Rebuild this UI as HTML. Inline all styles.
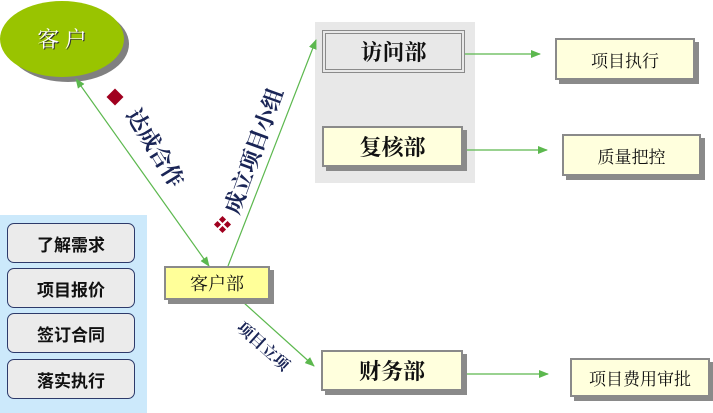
<!DOCTYPE html>
<html><head><meta charset="utf-8"><style>
body{margin:0;width:713px;height:413px;position:relative;overflow:hidden;background:#fff;font-family:"Liberation Sans","Noto Sans CJK SC",sans-serif}
.a{position:absolute;box-sizing:border-box}
.bx{position:absolute;box-sizing:border-box;background:#ffffdd;border:2px solid #8a8a8a;box-shadow:4px 4px 0 #8a8a8a;display:flex;align-items:center;justify-content:center;color:#111;font-family:"Liberation Serif","Noto Serif CJK SC",serif}
.btn{position:absolute;left:7px;width:128px;height:40px;box-sizing:border-box;border:1.5px solid #2d3a6a;border-radius:7px;background:#ebebeb;display:flex;align-items:center;justify-content:center;font-size:17px;font-weight:bold;color:#111}
.lbl{position:absolute;color:#1a2556;font-family:"Liberation Serif","Noto Serif CJK SC",serif;font-weight:bold;white-space:nowrap;transform-origin:center}
</style></head><body>
<div class="a" style="left:0;top:215px;width:147px;height:198px;background:#cce9fb"></div>
<div class="btn" style="top:223px">了解需求</div>
<div class="btn" style="top:268px">项目报价</div>
<div class="btn" style="top:313px">签订合同</div>
<div class="btn" style="top:359px">落实执行</div>

<div class="a" style="left:315px;top:22px;width:160px;height:161px;background:#e8e8e8"></div>

<svg class="a" style="left:0;top:0" width="713" height="413">
<defs>
<marker id="m" markerWidth="10" markerHeight="8" refX="9" refY="4" orient="auto" markerUnits="userSpaceOnUse"><path d="M0,0L10,4L0,8z" fill="#5cb84e"/></marker>
<marker id="ms" markerWidth="10" markerHeight="8" refX="1" refY="4" orient="auto" markerUnits="userSpaceOnUse"><path d="M10,0L0,4L10,8z" fill="#5cb84e"/></marker>
</defs>
<ellipse cx="68" cy="44" rx="61" ry="38" fill="#808080"/>
<ellipse cx="62" cy="39" rx="62" ry="38" fill="#99c400"/>
<text x="63" y="48" font-size="22" fill="#333" text-anchor="middle" font-family="Liberation Serif,Noto Serif CJK SC,serif">客 户</text>
<text x="62" y="47" font-size="22" fill="#fff" text-anchor="middle" font-family="Liberation Serif,Noto Serif CJK SC,serif">客 户</text>
<g stroke="#5cb84e" stroke-width="1.2" fill="none">
<line x1="76" y1="79" x2="209" y2="266" marker-start="url(#ms)" marker-end="url(#m)"/>
<line x1="228" y1="266" x2="316" y2="40" marker-end="url(#m)"/>
<line x1="243" y1="302" x2="314" y2="366" marker-end="url(#m)"/>
<line x1="465" y1="54" x2="540" y2="54" marker-end="url(#m)"/>
<line x1="465" y1="150" x2="547" y2="150" marker-end="url(#m)"/>
<line x1="463" y1="374" x2="548" y2="374" marker-end="url(#m)"/>
</g>
<rect x="109" y="91" width="12" height="12" fill="#a0001f" transform="rotate(45 115 97)"/>
<g fill="#a0001f">
<rect x="220" y="217" width="5" height="5" transform="rotate(45 222.5 219.5)"/>
<rect x="215" y="222" width="5" height="5" transform="rotate(45 217.5 224.5)"/>
<rect x="225" y="222" width="5" height="5" transform="rotate(45 227.5 224.5)"/>
<rect x="220" y="227" width="5" height="5" transform="rotate(45 222.5 229.5)"/>
</g>
</svg>

<div class="lbl" style="left:110px;top:132px;width:92px;text-align:center;font-size:22px;transform:rotate(58deg)">达成合作</div>
<div class="lbl" style="left:183px;top:135px;width:140px;text-align:center;font-size:22px;transform:rotate(-70deg)">成立项目小组</div>
<div class="lbl" style="left:228px;top:334px;width:72px;text-align:center;font-size:16px;transform:rotate(42deg)">项目立项</div>

<div class="bx" style="left:322px;top:30px;width:143px;height:43px;background:#e8e8e8;border:4px double #8a8a8a;box-shadow:none;font-size:22px;font-weight:bold">访问部</div>
<div class="bx" style="left:322px;top:126px;width:141px;height:41px;font-size:22px;font-weight:bold">复核部</div>
<div class="bx" style="left:555px;top:38px;width:140px;height:42px;font-size:17px">项目执行</div>
<div class="bx" style="left:562px;top:134px;width:139px;height:42px;font-size:17px">质量把控</div>
<div class="bx" style="left:164px;top:266px;width:106px;height:34px;background:#ffff99;font-size:18px">客户部</div>
<div class="bx" style="left:321px;top:350px;width:142px;height:41px;font-size:22px;font-weight:bold">财务部</div>
<div class="bx" style="left:570px;top:358px;width:140px;height:39px;font-size:17px">项目费用审批</div>
</body></html>
